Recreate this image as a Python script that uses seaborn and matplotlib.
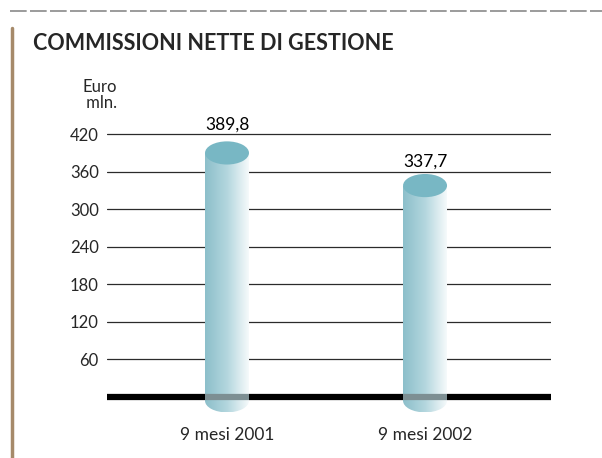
import numpy as np
import pandas as pd
import matplotlib
matplotlib.use("Agg")
import matplotlib.pyplot as plt
import seaborn as sns
from matplotlib.patches import Ellipse, Rectangle
from matplotlib.lines import Line2D
from matplotlib.colors import LinearSegmentedColormap

# data
periods = ["9 mesi 2001", "9 mesi 2002"]
values = [389.8, 337.7]
value_labels = ["389,8", "337,7"]
yticks = [60, 120, 180, 240, 300, 360, 420]

df = pd.DataFrame({"periodo": periods, "valore": values})

sns.set_theme(style="white")
plt.rcParams["font.family"] = ["Lato", "DejaVu Sans"]

fig = plt.figure(figsize=(6.02, 4.58), dpi=100)
ax = fig.add_axes([107 / 602, 0.0989, 444 / 602, 0.6358])

sns.barplot(data=df, x="periodo", y="valore", width=0.222,
            facecolor="none", edgecolor="none", ax=ax)

ax.set_xlim(-0.606, 1.636)
ax.set_ylim(-25, 440)

# griglia
for t in yticks:
    ax.axhline(t, color="#2b2b2b", lw=0.9, zorder=1)
ax.axhline(0, color="black", lw=4.5, zorder=2)

cmap = LinearSegmentedColormap.from_list("cyl", ["#8cbfca", "#b3d6de", "#f6fafb"])
grad = np.linspace(0, 1, 256).reshape(1, -1)
cap_h = 37
base = -6

for p, v in zip(ax.patches, values):
    x0, w = p.get_x(), p.get_width()
    xc = x0 + w / 2
    # corpo del cilindro
    body = Rectangle((x0, base), w, v - base, transform=ax.transData,
                     facecolor="none", edgecolor="none")
    ax.add_patch(body)
    im = ax.imshow(grad, cmap=cmap, aspect="auto", extent=(x0, x0 + w, base, v),
                   zorder=3)
    im.set_clip_path(body)
    # base arrotondata
    bot = Ellipse((xc, base), w, cap_h, facecolor="none", edgecolor="none")
    ax.add_patch(bot)
    im2 = ax.imshow(grad, cmap=cmap, aspect="auto",
                    extent=(x0, x0 + w, base - cap_h / 2, base), zorder=3)
    im2.set_clip_path(bot)
    # linea dello zero attraverso il cilindro
    ax.plot([x0, x0 + w], [0, 0], color="#7d8f93", lw=4.5, zorder=4,
            solid_capstyle="butt")
    # tappo superiore
    ax.add_patch(Ellipse((xc, v), w, cap_h, facecolor="#78b7c4",
                         edgecolor="none", zorder=5))

ax.set_yticks(yticks)
ax.set_yticklabels([str(t) for t in yticks], fontsize=12)
ax.tick_params(axis="y", length=0, pad=6)
ax.tick_params(axis="x", length=0, pad=10, labelsize=12.5)
ax.set_xlabel("")
ax.set_ylabel("")
for s in ax.spines.values():
    s.set_visible(False)

label_off = [46, 38]
for p, v, lab, off in zip(ax.patches, values, value_labels, label_off):
    ax.text(p.get_x() + p.get_width() / 2, v + off, lab, ha="center",
            va="center", fontsize=12.5, color="black", clip_on=False)

fig.text(82 / 602, 1 - 95 / 458, "Euro\n mln.", ha="left", va="center",
         fontsize=12, linespacing=0.95)
fig.text(33 / 602, 1 - 43 / 458, "COMMISSIONI NETTE DI GESTIONE",
         ha="left", va="center", fontsize=15.5, fontweight="bold")

# cornice decorativa
fig.add_artist(Line2D([12 / 602, 12 / 602], [0, 1 - 28 / 458],
                      color="#a68a6a", lw=2.5))
fig.add_artist(Line2D([10 / 602, 1], [1 - 11 / 458, 1 - 11 / 458],
                      color="#8a8a8a", lw=1.2, ls=(0, (10, 2))))

fig.savefig("out.png", dpi=100)
